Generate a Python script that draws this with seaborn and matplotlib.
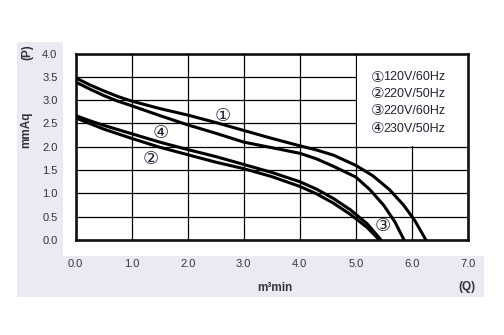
import numpy as np
import pandas as pd
import matplotlib
matplotlib.use("Agg")
import matplotlib.pyplot as plt
from matplotlib.patches import Rectangle
import seaborn as sns

# ---- data ----
curve_ids = ["1", "3", "4", "2"]
q1 = [0.0, 0.25, 0.5, 0.75, 1.0, 1.5, 2.0, 2.5, 3.0, 3.5, 4.0, 4.3, 4.6, 5.0, 5.3, 5.6, 5.85, 6.05, 6.25]
p1 = [3.48, 3.33, 3.20, 3.08, 2.98, 2.82, 2.68, 2.52, 2.35, 2.18, 2.02, 1.93, 1.82, 1.60, 1.38, 1.08, 0.75, 0.42, 0.0]
q3 = [0.0, 0.25, 0.5, 0.75, 1.0, 1.5, 2.0, 2.5, 3.0, 3.5, 4.0, 4.3, 4.6, 5.0, 5.25, 5.5, 5.7, 5.86]
p3 = [3.39, 3.24, 3.10, 2.98, 2.88, 2.67, 2.47, 2.29, 2.10, 1.98, 1.86, 1.74, 1.58, 1.35, 1.08, 0.74, 0.38, 0.0]
q4 = [0.0, 0.25, 0.5, 0.75, 1.0, 1.5, 2.0, 2.5, 3.0, 3.5, 4.0, 4.3, 4.6, 4.9, 5.2, 5.45]
p4 = [2.67, 2.56, 2.46, 2.37, 2.28, 2.10, 1.94, 1.79, 1.62, 1.45, 1.25, 1.09, 0.89, 0.65, 0.35, 0.0]
q2 = [0.0, 0.25, 0.5, 0.75, 1.0, 1.5, 2.0, 2.5, 3.0, 3.5, 4.0, 4.3, 4.6, 4.9, 5.2, 5.42]
p2 = [2.62, 2.50, 2.38, 2.28, 2.18, 1.99, 1.83, 1.67, 1.53, 1.36, 1.15, 0.99, 0.79, 0.55, 0.27, 0.0]

series_marks = ["\u2460", "\u2461", "\u2462", "\u2463"]
series_labels = ["120V/60Hz", "220V/50Hz", "220V/60Hz", "230V/50Hz"]
x_ticks = [0, 1, 2, 3, 4, 5, 6, 7]
x_ticklabels = ["0.0", "1.0", "2.0", "3.0", "4.0", "5.0", "6.0", "7.0"]
y_ticks = [0.0, 0.5, 1.0, 1.5, 2.0, 2.5, 3.0, 3.5, 4.0]
y_ticklabels = ["0.0", "0.5", "1.0", "1.5", "2.0", "2.5", "3.0", "3.5", "4.0"]
# positions of the circled labels on the curves (data coords)
curve_label_mark = ["\u2460", "\u2463", "\u2461", "\u2462"]
curve_label_q = [2.63, 1.52, 1.34, 5.47]
curve_label_p = [2.67, 2.29, 1.73, 0.30]

frames = []
for cid, q, p in zip(curve_ids, [q1, q3, q4, q2], [p1, p3, p4, p2]):
    frames.append(pd.DataFrame({"Q": q, "P": p, "curve": cid}))
df = pd.concat(frames, ignore_index=True)

sns.set_theme(style="white")
plt.rcParams["font.family"] = ["Liberation Sans", "DejaVu Sans", "Noto Sans CJK JP"]

W, H = 504, 335
fig = plt.figure(figsize=(W / 100, H / 100), dpi=100)
fig.patch.set_facecolor("white")

bg = "#EAEAF2"
fig.add_artist(Rectangle((17 / W, 38 / H), 46 / W, 255 / H, transform=fig.transFigure,
                         facecolor=bg, edgecolor="none", zorder=0))
fig.add_artist(Rectangle((17 / W, 38 / H), 467 / W, 41 / H, transform=fig.transFigure,
                         facecolor=bg, edgecolor="none", zorder=0))

ax = fig.add_axes([75.5 / W, (H - 240) / H, (468 - 75.5) / W, (240 - 53.5) / H])
ax.set_facecolor("white")

sns.lineplot(data=df, x="Q", y="P", hue="curve", units="curve", estimator=None,
             palette=["black"] * 4, sort=False, legend=False, linewidth=2.2, ax=ax,
             zorder=3)

ax.set_xlim(0, 7)
ax.set_ylim(0, 4)
ax.set_xticks(x_ticks)
ax.set_xticklabels(x_ticklabels)
ax.set_yticks(y_ticks)
ax.set_yticklabels(y_ticklabels)
ax.grid(True, color="black", linewidth=0.9, zorder=1)
ax.set_axisbelow(True)
ax.tick_params(axis="both", length=0, labelsize=8, labelcolor="#333340")
ax.tick_params(axis="x", pad=14)
ax.tick_params(axis="y", pad=13)
ax.set_xlabel("")
ax.set_ylabel("")
for s in ax.spines.values():
    s.set_visible(True)
    s.set_color("#111111")
    s.set_linewidth(1.9)

# white legend panel hiding the grid in the upper-right
ax.add_patch(Rectangle((5.025, 2.025), 1.975, 1.975, facecolor="white",
                       edgecolor="none", zorder=2))

# legend texts
leg_p = [3.49, 3.14, 2.77, 2.39]
for m, lab, p in zip(series_marks, series_labels, leg_p):
    ax.text(5.385, p, m, ha="center", va="center", fontsize=11, color="#222233",
            family=["DejaVu Sans"], zorder=5)
    ax.text(5.49, p, lab, ha="left", va="center", fontsize=9, color="#222233", zorder=5)

# circled labels on curves
for m, q, p in zip(curve_label_mark, curve_label_q, curve_label_p):
    ax.text(q, p, m, ha="center", va="center", fontsize=13, color="#222233",
            family=["DejaVu Sans"], zorder=5)

# axis titles
fig.text(275 / W, 1 - 288 / H, "m\u00b3min", ha="center", va="center", fontsize=8.5,
         fontweight="bold", color="#333340")
fig.text(467 / W, 1 - 287 / H, "(Q)", ha="center", va="center", fontsize=8.5,
         fontweight="bold", color="#333340")
fig.text(27 / W, 1 - 52 / H, "(P)", ha="center", va="center", fontsize=8.5,
         fontweight="bold", rotation=90, color="#333340")
fig.text(26 / W, 1 - 130 / H, "mmAq", ha="center", va="center", fontsize=8.5,
         fontweight="bold", rotation=90, color="#333340")

fig.savefig("out.png", dpi=100, facecolor="white")
